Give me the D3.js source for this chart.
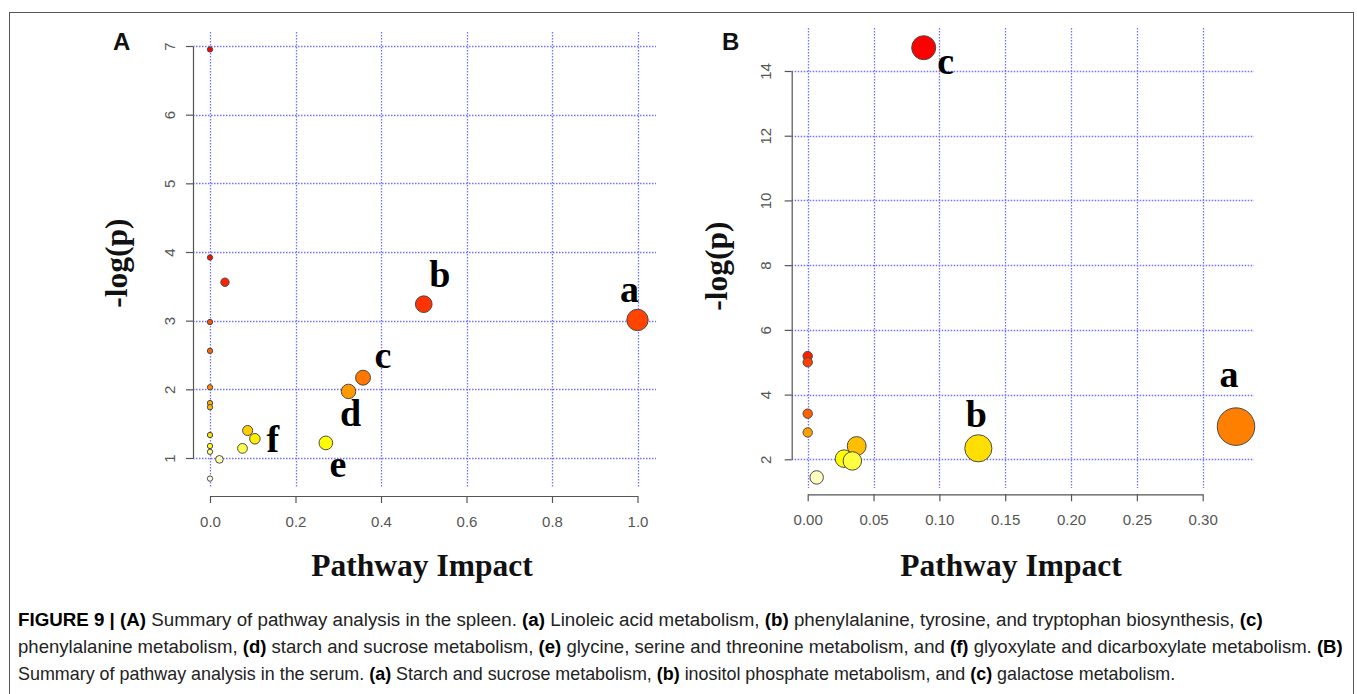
<!DOCTYPE html>
<html>
<head>
<meta charset="utf-8">
<script src="https://cdn.jsdelivr.net/npm/d3@7"></script>
<style>
  body { margin: 0; background: #fff; }
  svg { display: block; }
  text { white-space: pre; }
</style>
</head>
<body>
<svg id="fig" width="1357" height="694"></svg>
<script>
// ---- Panel A: spleen (sorted by -log(p), highest first) ----
const spleenImpact = [0, 0, 0.035, 0.50, 1.00, 0, 0, 0.358, 0, 0.324, 0, 0, 0.088, 0, 0.105, 0.271, 0, 0.076, 0, 0.022, 0];
const spleenLogP   = [6.95, 3.92, 3.56, 3.24, 3.01, 2.98, 2.56, 2.17, 2.03, 1.97, 1.80, 1.74, 1.40, 1.335, 1.28, 1.22, 1.175, 1.14, 1.09, 0.98, 0.70];
const spleenTags   = ["", "", "", "b", "a", "", "", "c", "", "d", "", "", "", "", "f", "e", "", "", "", "", ""];
const spleenXTicks = [0, 0.2, 0.4, 0.6, 0.8, 1.0];
const spleenYTicks = [1, 2, 3, 4, 5, 6, 7];

// ---- Panel B: serum ----
const serumImpact = [0.0881, 0, 0, 0, 0.3253, 0, 0.0372, 0.1296, 0.0276, 0.0339, 0.0068];
const serumLogP   = [14.72, 5.19, 5.00, 3.41, 3.01, 2.83, 2.41, 2.34, 2.02, 1.95, 1.44];
const serumTags   = ["c", "", "", "", "a", "", "", "b", "", "", ""];
const serumXTicks = [0, 0.05, 0.10, 0.15, 0.20, 0.25, 0.30];
const serumYTicks = [2, 4, 6, 8, 10, 12, 14];

// ---- Caption (**...** marks bold runs) ----
const captionLines = [
  "**FIGURE 9 | (A)** Summary of pathway analysis in the spleen. **(a)** Linoleic acid metabolism, **(b)** phenylalanine, tyrosine, and tryptophan biosynthesis, **(c)**",
  "phenylalanine metabolism, **(d)** starch and sucrose metabolism, **(e)** glycine, serine and threonine metabolism, and **(f)** glyoxylate and dicarboxylate metabolism. **(B)**",
  "Summary of pathway analysis in the serum. **(a)** Starch and sucrose metabolism, **(b)** inositol phosphate metabolism, and **(c)** galactose metabolism."
];

// R-style heat.colors(n): rainbow from red to yellow, last quarter fading to white
function hsvToHex(h, s, v) {
  const f = (n) => {
    const k = (n + h * 6) % 6;
    return v - v * s * Math.max(0, Math.min(k, 4 - k, 1));
  };
  return d3.rgb(f(5) * 255, f(3) * 255, f(1) * 255).formatHex();
}
function heatColors(n) {
  const j = Math.floor(n / 4), i = n - j, out = [];
  for (let k = 0; k < i; k++) out.push(hsvToHex(i > 1 ? (k / (i - 1)) / 6 : 0, 1, 1));
  for (let k = 0; k < j; k++) {
    const s0 = 1 - 1 / (2 * j), s1 = 1 / (2 * j);
    out.push(hsvToHex(1 / 6, j > 1 ? s0 + (s1 - s0) * k / (j - 1) : s0, 1));
  }
  return out;
}

const svg = d3.select("#fig");
const SERIF = "'Liberation Serif', 'Times New Roman', serif";
const SANS = "'Liberation Sans', Arial, sans-serif";

// outer frame of the figure
svg.append("rect")
  .attr("x", 9.5).attr("y", 12.5).attr("width", 1344).attr("height", 720)
  .attr("fill", "none").attr("stroke", "#555").attr("stroke-width", 1);

const panels = [
  {
    letter: "A", impact: spleenImpact, logp: spleenLogP, tags: spleenTags,
    xTicks: spleenXTicks, yTicks: spleenYTicks, xFmt: d3.format(".1f"),
    xRange: [210, 637.5], yRange: [458, 46],
    region: { l: 193, r: 656, t: 32, b: 488 },
    xAxisY: 496, yAxisX: 193, yTickOff: 18,
    letterPos: [113, 50], yTitle: [127, 263], xTitleX: 422,
    tagOffset: { a: [-8, -18], b: [16, -17], c: [20, -10], d: [2, 35], e: [12, 34], f: [18, 13] }
  },
  {
    letter: "B", impact: serumImpact, logp: serumLogP, tags: serumTags,
    xTicks: serumXTicks, yTicks: serumYTicks, xFmt: d3.format(".2f"),
    xRange: [807.7, 1202.7], yRange: [459.3, 71],
    region: { l: 791.7, r: 1254, t: 28, b: 488 },
    xAxisY: 494.3, yAxisX: 791.7, yTickOff: 21,
    letterPos: [722, 50], yTitle: [727, 266], xTitleX: 1011,
    tagOffset: { a: [-7, -40], b: [-2, -21], c: [22, 26] }
  }
];

panels.forEach(p => {
  const x = d3.scaleLinear().domain([p.xTicks[0], p.xTicks[p.xTicks.length - 1]]).range(p.xRange);
  const y = d3.scaleLinear().domain([p.yTicks[0], p.yTicks[p.yTicks.length - 1]]).range(p.yRange);
  const g = svg.append("g");

  // dotted blue grid
  const grid = g.append("g").attr("stroke", "#7272ff").attr("stroke-width", 1.3)
    .attr("stroke-dasharray", "1.5,1.5").attr("fill", "none");
  grid.selectAll("line.h").data(p.yTicks).join("line").attr("class", "h")
    .attr("x1", p.region.l).attr("x2", p.region.r)
    .attr("y1", d => Math.round(y(d)) + 0.5).attr("y2", d => Math.round(y(d)) + 0.5);
  grid.selectAll("line.v").data(p.xTicks).join("line").attr("class", "v")
    .attr("y1", p.region.t).attr("y2", p.region.b)
    .attr("x1", d => Math.round(x(d)) + 0.5).attr("x2", d => Math.round(x(d)) + 0.5);

  // axes
  const xAxis = g.append("g").attr("transform", `translate(0,${p.xAxisY})`)
    .call(d3.axisBottom(x).tickValues(p.xTicks).tickFormat(p.xFmt).tickSize(7).tickSizeOuter(0));
  const yAxis = g.append("g").attr("transform", `translate(${p.yAxisX},0)`)
    .call(d3.axisLeft(y).tickValues(p.yTicks).tickFormat(d3.format("d")).tickSize(7).tickSizeOuter(0));
  [xAxis, yAxis].forEach(a => {
    a.select(".domain").attr("stroke", "#555").attr("stroke-width", 1.2);
    a.selectAll(".tick line").attr("stroke", "#555").attr("stroke-width", 1.2);
    a.selectAll(".tick text").attr("fill", "#555").style("font-family", SANS).style("font-size", "15px");
  });
  xAxis.selectAll(".tick text").attr("y", 31).attr("dy", 0);
  yAxis.selectAll(".tick text").attr("x", 0).attr("dy", 0).attr("text-anchor", "middle")
    .attr("transform", `translate(${-p.yTickOff},0) rotate(-90)`);

  // bubbles: radius from sqrt(impact), colour from -log(p) rank
  const n = p.impact.length;
  const sq = p.impact.map(Math.sqrt);
  const minS = d3.min(sq), maxS = d3.max(sq);
  const maxR = (maxS - minS) / 40, minR = (maxS - minS) / 160;
  const unit = Math.abs(x(1) - x(0));
  const order = d3.range(n).sort((a, b) => p.logp[b] - p.logp[a]);
  const colors = heatColors(n);
  const rank = new Array(n);
  order.forEach((idx, r) => rank[idx] = r);
  const pts = order.map(i => ({
    i, cx: x(p.impact[i]), cy: y(p.logp[i]),
    r: (minR + (maxR - minR) * (sq[i] - minS) / (maxS - minS)) * unit,
    fill: colors[rank[i]], tag: p.tags[i]
  }));
  g.append("g").selectAll("circle").data(pts).join("circle")
    .attr("cx", d => d.cx).attr("cy", d => d.cy).attr("r", d => d.r)
    .attr("fill", d => d.fill).attr("stroke", "#4a4a4a").attr("stroke-width", 1);

  // pathway letters
  g.append("g").selectAll("text").data(pts.filter(d => d.tag)).join("text")
    .attr("x", d => d.cx + p.tagOffset[d.tag][0])
    .attr("y", d => d.cy + p.tagOffset[d.tag][1])
    .attr("text-anchor", "middle")
    .style("font-family", SERIF).style("font-weight", "bold").style("font-size", "38px")
    .attr("fill", "#000").text(d => d.tag);

  // axis titles
  g.append("text").attr("x", p.xTitleX).attr("y", 576).attr("text-anchor", "middle")
    .style("font-family", SERIF).style("font-weight", "bold").style("font-size", "31.5px")
    .attr("fill", "#111").text("Pathway Impact");
  g.append("text").attr("text-anchor", "middle")
    .attr("transform", `translate(${p.yTitle[0]},${p.yTitle[1]}) rotate(-90)`)
    .style("font-family", SERIF).style("font-weight", "bold").style("font-size", "31.5px")
    .attr("fill", "#111").text("-log(p)");

  // panel letter
  g.append("text").attr("x", p.letterPos[0]).attr("y", p.letterPos[1])
    .style("font-family", SANS).style("font-weight", "bold").style("font-size", "24px")
    .attr("fill", "#111").text(p.letter);
});

// caption: each line fitted horizontally to its measured span
const capWidths = [1246, 1326, 1158];
captionLines.forEach((line, li) => {
  const t = svg.append("text")
    .attr("x", 0).attr("y", 0)
    .style("font-family", "'Liberation Sans Narrow', 'Arial Narrow', " + SANS)
    .style("font-size", "19px").attr("fill", "#222");
  line.split("**").forEach((seg, k) => {
    if (!seg) return;
    t.append("tspan").style("font-weight", k % 2 ? "bold" : "normal")
      .attr("fill", k % 2 ? "#000" : "#222").text(seg);
  });
  const sx = capWidths[li] / t.node().getComputedTextLength();
  t.attr("transform", `translate(18,${626 + li * 27}) scale(${sx},1)`);
});
</script>
</body>
</html>
